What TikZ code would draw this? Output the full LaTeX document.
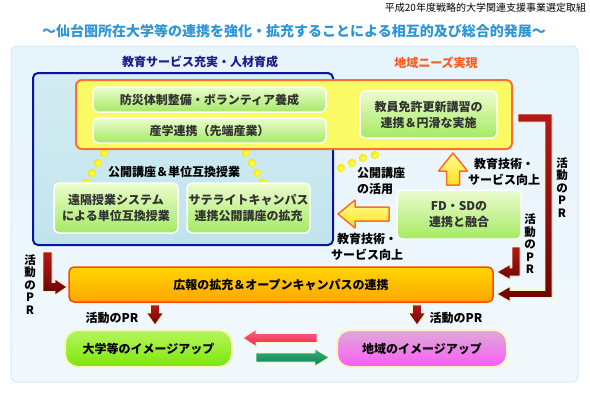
\documentclass[tikz,border=0pt]{standalone}
\usepackage{fontspec}
\setmainfont{Noto Sans CJK JP}
\definecolor{titleC}{RGB}{45,150,215}
\definecolor{navyC}{RGB}{28,28,140}
\definecolor{orangeT}{RGB}{255,90,30}
\definecolor{panelTop}{RGB}{230,244,252}
\definecolor{panelBot}{RGB}{242,249,253}
\definecolor{panelB}{RGB}{214,234,246}
\definecolor{blueB}{RGB}{10,20,160}
\definecolor{blueTop}{RGB}{212,236,243}
\definecolor{blueBot}{RGB}{192,228,236}
\definecolor{yelF}{RGB}{250,250,100}
\definecolor{yelB}{RGB}{255,110,50}
\definecolor{gTop}{RGB}{236,252,206}
\definecolor{gBot}{RGB}{164,234,100}
\definecolor{gText}{RGB}{50,50,50}
\definecolor{oTop}{RGB}{255,214,0}
\definecolor{oBot}{RGB}{255,166,0}
\definecolor{oB}{RGB}{255,72,0}
\definecolor{bgTop}{RGB}{182,246,92}
\definecolor{bgBot}{RGB}{124,230,12}
\definecolor{pkTop}{RGB}{222,170,216}
\definecolor{pkBot}{RGB}{250,92,245}
\definecolor{cream}{RGB}{250,246,192}
\definecolor{rTop}{RGB}{180,24,24}
\definecolor{rBot}{RGB}{110,4,4}
\definecolor{yTop}{RGB}{255,255,150}
\definecolor{yBot}{RGB}{255,224,30}
\definecolor{yB}{RGB}{255,110,40}
\definecolor{dotIn}{RGB}{255,255,120}
\definecolor{dotOut}{RGB}{242,232,0}
\definecolor{pArTop}{RGB}{250,100,130}
\definecolor{pArBot}{RGB}{232,40,80}
\definecolor{tArTop}{RGB}{50,176,128}
\definecolor{tArBot}{RGB}{16,128,80}
\begin{document}
\begin{tikzpicture}[x=1pt,y=-1pt,
  every node/.style={inner sep=0pt, outer sep=0pt},
  lab/.style={font=\bfseries\fontsize{12}{16}\selectfont, align=center, text=black},
  gbox/.style={draw=white, line width=1.5pt, rounded corners=5pt, top color=gTop, bottom color=gBot,
    font=\bfseries\fontsize{12}{16}\selectfont, align=center, text=gText},
  vtxt/.style={font=\bfseries\fontsize{11.5}{12.5}\selectfont, align=center, text=black},
  redarr/.style={draw=cream, line width=0.8pt, top color=rTop, bottom color=rBot, line join=miter},
  yarr/.style={draw=yB, line width=1.5pt, top color=yTop, bottom color=yBot, line join=round},
  dotc/.style={inner color=dotIn, outer color=dotOut},
]
\useasboundingbox (0,0) rectangle (590,400);
\fill[white] (0,0) rectangle (590,400);

% headings
\node[anchor=east, font=\fontsize{10}{11}\selectfont, text=black] (top) at (586,8) {平成20年度戦略的大学関連支援事業選定取組};
\node[font=\bfseries\fontsize{14}{16}\selectfont, text=titleC] (title) at (294,31) {～仙台圏所在大学等の連携を強化・拡充することによる相互的及び総合的発展～};

% panel
\node[draw=panelB, line width=1pt, rounded corners=6pt, top color=panelTop, bottom color=panelBot,
  minimum width=567pt, minimum height=336pt] (panel) at (294.5,214) {};

\node[lab, text=navyC] (hdL) at (200,62) {教育サービス充実・人材育成};
\node[lab, text=orangeT] (hdR) at (436,63) {地域ニーズ実現};

% blue box
\node[draw=blueB, line width=2pt, rounded corners=5pt, top color=blueTop, bottom color=blueBot,
  minimum width=300pt, minimum height=172pt] (blue) at (183,159) {};

% dots
\foreach \p in {(104,153),(98,163),(92,173),(86,183),(246,153),(252,163),(257,173),(263,183),
  (375,155),(363,158),(352,163),(341,168)}
  \shade[dotc] \p circle (4.2);

% yellow box
\node[draw=yelB, line width=2pt, rounded corners=6pt, fill=yelF,
  minimum width=436pt, minimum height=69pt] (yellow) at (294,114.5) {};

% green boxes
\node[gbox, minimum width=233pt, minimum height=25pt] (g1) at (209.5,99.5) {防災体制整備・ボランティア養成};
\node[gbox, minimum width=233pt, minimum height=25pt] (g2) at (209.5,130.5) {産学連携（先端産業）};
\node[gbox, minimum width=137pt, minimum height=47pt] (g3) at (428.5,114.5) {教員免許更新講習の\\連携＆円滑な実施};
\node[gbox, minimum width=124pt, minimum height=50pt] (g4) at (116,208) {遠隔授業システム\\による単位互換授業};
\node[gbox, minimum width=123pt, minimum height=50pt] (g5) at (248.5,208) {サテライトキャンパス\\連携公開講座の拡充};
\node[gbox, minimum width=124pt, minimum height=49pt] (g6) at (459,214.5) {FD・SDの\\連携と融合};

\node[lab] (kokai) at (174,172) {公開講座＆単位互換授業};
\node[lab, anchor=west, align=left] (katsuyo) at (357,181) {公開講座\\の活用};
\node[lab] (kgA) at (504,171.5) {教育技術・\\サービス向上};
\node[lab] (kgB) at (367,247) {教育技術・\\サービス向上};

% yellow arrows
\draw[yarr] (453,153) -- (467.5,171) -- (459.5,171) -- (459.5,185) -- (446.5,185) -- (446.5,171) -- (438.5,171) -- cycle;
\draw[yarr] (338,214) -- (355,200) -- (355,207) -- (389,207) -- (389,221) -- (355,221) -- (355,228) -- cycle;

% orange box
\node[draw=oB, line width=1.5pt, rounded corners=5pt, top color=oTop, bottom color=oBot,
  minimum width=424pt, minimum height=35pt, font=\bfseries\fontsize{12}{16}\selectfont] (pr) at (281,284.5) {広報の拡充＆オープンキャンパスの連携};

% dark red arrows
\draw[redarr] (518,114) -- (552,114) -- (552,297.5) -- (510,297.5) -- (510,301.5) -- (497,294) -- (510,286.5) -- (510,290.5) -- (545,290.5) -- (545,122) -- (518,122) -- cycle;
\draw[redarr] (512,247) -- (520,247) -- (520,276) -- (510,276) -- (510,279.5) -- (497,272) -- (510,264.5) -- (510,268) -- (512,268) -- cycle;
\draw[redarr] (43,252) -- (52,252) -- (52,282.5) -- (55,282.5) -- (55,279) -- (67,287) -- (55,295) -- (55,291.5) -- (43,291.5) -- cycle;
\draw[redarr] (150.5,305) -- (159.5,305) -- (159.5,313) -- (163.5,313) -- (155,325) -- (146.5,313) -- (150.5,313) -- cycle;
\draw[redarr] (412.5,305) -- (421.5,305) -- (421.5,313) -- (425.5,313) -- (417,325) -- (408.5,313) -- (412.5,313) -- cycle;

\node[vtxt] (vR1) at (562,187.5) {活\\動\\の\\P\\R};
\node[vtxt] (vR2) at (530,244) {活\\動\\の\\P\\R};
\node[vtxt] (vL) at (30,284.5) {活\\動\\の\\P\\R};
\node[lab] (prL) at (112,318) {活動のPR};
\node[lab] (prR) at (456,318) {活動のPR};

% image boxes
\node[draw=cream, line width=2pt, rounded corners=13pt, top color=bgTop, bottom color=bgBot,
  minimum width=167pt, minimum height=37pt, font=\bfseries\fontsize{12}{16}\selectfont] (univ) at (148.5,348.5) {大学等のイメージアップ};
\node[draw=cream, line width=2pt, rounded corners=13pt, top color=pkTop, bottom color=pkBot,
  minimum width=170pt, minimum height=37pt, font=\bfseries\fontsize{12}{16}\selectfont] (region) at (422,348.5) {地域のイメージアップ};

% exchange arrows
\draw[draw=cream, line width=0.8pt, top color=pArTop, bottom color=pArBot] (243,338) -- (256,329.5) -- (256,333.5) -- (317,333.5) -- (317,342.5) -- (256,342.5) -- (256,346.5) -- cycle;
\draw[draw=cream, line width=0.8pt, top color=tArTop, bottom color=tArBot] (329,357.5) -- (315,349) -- (315,353) -- (256,353) -- (256,362) -- (315,362) -- (315,366) -- cycle;
\end{tikzpicture}
\end{document}
